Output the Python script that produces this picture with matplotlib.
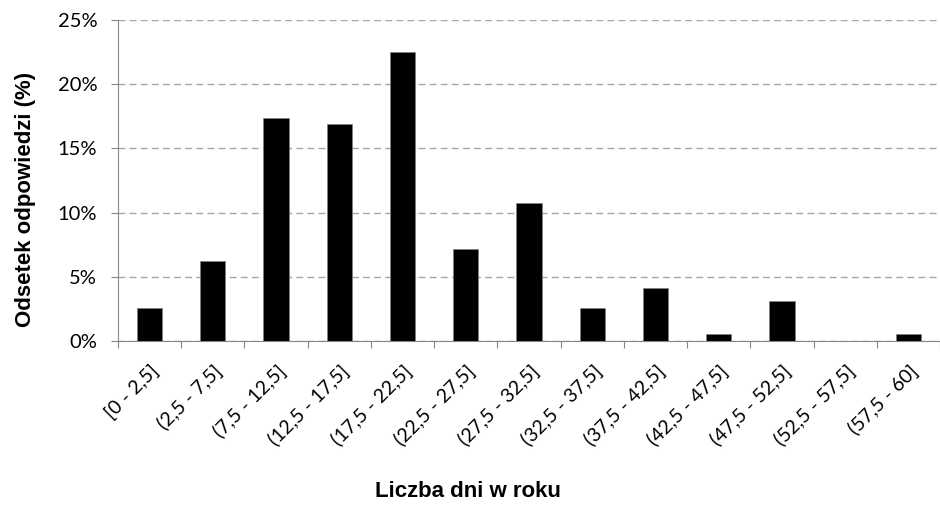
import matplotlib.pyplot as plt
from matplotlib.ticker import FuncFormatter, MultipleLocator

categories = ["[0 - 2,5]", "(2,5 - 7,5]", "(7,5 - 12,5]", "(12,5 - 17,5]",
              "(17,5 - 22,5]", "(22,5 - 27,5]", "(27,5 - 32,5]", "(32,5 - 37,5]",
              "(37,5 - 42,5]", "(42,5 - 47,5]", "(47,5 - 52,5]", "(52,5 - 57,5]",
              "(57,5 - 60]"]
values = [2.6, 6.2, 17.4, 16.9, 22.5, 7.2, 10.75, 2.6, 4.15, 0.5, 3.1, 0.0, 0.5]

fig = plt.figure(figsize=(9.4, 5.05), dpi=100)
ax = fig.add_axes([0.1255, 0.325, 0.8745, 0.635])

x = range(len(categories))
ax.bar(x, values, width=0.4, color="black", edgecolor="#808080", linewidth=0.5, zorder=3)

ax.set_xlim(-0.5, len(categories) - 0.5)
ax.set_ylim(0, 25)
ax.yaxis.set_major_locator(MultipleLocator(5))
ax.yaxis.set_major_formatter(FuncFormatter(lambda v, p: f"{v:.0f}%"))
ax.yaxis.grid(True, linestyle=(0, (5, 3)), color="#a6a6a6", linewidth=1, zorder=0)

ax.set_xticks([i - 0.5 for i in range(len(categories) + 1)], minor=False)
ax.set_xticklabels([])
ax.set_xticks(list(x), minor=True)
ax.set_xticklabels(categories, minor=True, rotation=45, ha="right", va="top",
                   rotation_mode="anchor", fontsize=14, family="Lato")
ax.tick_params(axis="x", which="minor", length=0, pad=15)
ax.tick_params(axis="x", which="major", length=5, color="#868686", direction="out")
ax.tick_params(axis="y", length=5, color="#868686", labelsize=14.5, pad=10)
for lbl in ax.get_yticklabels():
    lbl.set_family("Lato")

for s in ["top", "right"]:
    ax.spines[s].set_visible(False)
for s in ["left", "bottom"]:
    ax.spines[s].set_color("#868686")

ax.set_ylabel("Odsetek odpowiedzi (%)", fontsize=16, fontweight="bold",
              family="Liberation Sans")
ax.yaxis.set_label_coords(-0.0995, 0.441)
fig.text(0.498, 0.026, "Liczba dni w roku", ha="center", va="center",
         fontsize=16, fontweight="bold", family="Liberation Sans")

fig.savefig("out.png", dpi=100)
